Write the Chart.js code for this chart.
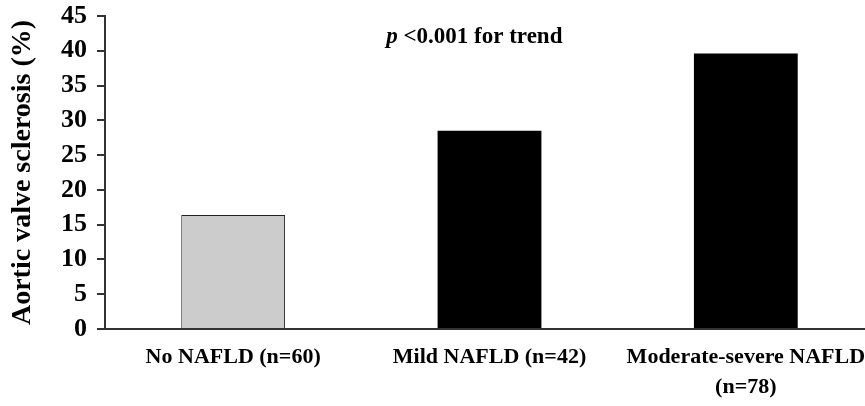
<!DOCTYPE html>
<html>
<head>
<meta charset="utf-8">
<script src="https://cdn.jsdelivr.net/npm/chart.js@4"></script>
<style>
  html, body { margin: 0; padding: 0; background: #fff; overflow: hidden; }
  #wrap { width: 900px; height: 406px; }
</style>
</head>
<body>
<div id="wrap"><canvas id="chart"></canvas></div>
<script>
'use strict'

// data
const categories = ['No NAFLD (n=60)', 'Mild NAFLD (n=42)', ['Moderate-severe NAFLD', '(n=78)']]
const sclerosis = [16.4, 28.5, 39.6]
const barColors = ['#cccccc', '#000000', '#000000']
const yTicks = [0, 5, 10, 15, 20, 25, 30, 35, 40, 45]
const trendNote = { italic: 'p', rest: ' <0.001 for trend' }

const fontFamily = '"Liberation Serif", "Times New Roman", serif'

// p-value note above the bars
const trendPlugin = {
    id: 'trendNote',
    afterDraw(chart) {
        const { ctx, scales } = chart
        const x = (scales.x.getPixelForValue(0) + scales.x.getPixelForValue(1)) / 2 + 113
        const y = scales.y.getPixelForValue(42)
        ctx.save()
        ctx.fillStyle = '#000'
        ctx.textBaseline = 'middle'
        ctx.font = 'italic bold 23px ' + fontFamily
        const w1 = ctx.measureText(trendNote.italic).width
        ctx.font = 'bold 23px ' + fontFamily
        const w2 = ctx.measureText(trendNote.rest).width
        let left = x - (w1 + w2) / 2
        ctx.font = 'italic bold 23px ' + fontFamily
        ctx.fillText(trendNote.italic, left, y)
        ctx.font = 'bold 23px ' + fontFamily
        ctx.fillText(trendNote.rest, left + w1, y)
        ctx.restore()
    }
}

const config = {
    type: 'bar',
    data: {
        labels: categories,
        datasets: [{
            data: sclerosis,
            backgroundColor: barColors,
            borderColor: '#222',
            borderWidth: [1, 0, 0],
            barPercentage: 0.81,
            categoryPercentage: 0.5
        }]
    },
    options: {
        responsive: true,
        maintainAspectRatio: false,
        animation: false,
        layout: { padding: { top: 16, right: 26, left: 0, bottom: 0 } },
        plugins: {
            legend: { display: false },
            tooltip: { enabled: false }
        },
        scales: {
            x: {
                grid: { display: false, drawTicks: false },
                border: { display: true, color: '#333', width: 2 },
                ticks: {
                    color: '#000',
                    padding: 13,
                    maxRotation: 0,
                    autoSkip: false,
                    font: { family: fontFamily, size: 22, weight: 'bold', lineHeight: 1.36 }
                },
                afterFit(scale) {
                    scale.height = 77
                    scale.paddingLeft = 0
                    scale.paddingRight = 0
                }
            },
            y: {
                min: 0,
                max: 45,
                afterBuildTicks(scale) { scale.ticks = yTicks.map(v => ({ value: v })) },
                grid: { drawOnChartArea: false, drawTicks: true, tickLength: 8, color: '#333', lineWidth: 2 },
                border: { display: true, color: '#333', width: 2 },
                ticks: {
                    color: '#000',
                    padding: 10,
                    autoSkip: false,
                    font: { family: fontFamily, size: 26, weight: 'bold', lineHeight: 1 }
                },
                title: {
                    display: true,
                    text: 'Aortic valve sclerosis (%)',
                    color: '#000',
                    padding: { top: 6, bottom: 0 },
                    font: { family: fontFamily, size: 28, weight: 'bold' }
                },
                afterFit(scale) {
                    scale.width = 105
                    scale.paddingTop = 0
                    scale.paddingBottom = 0
                }
            }
        }
    },
    plugins: [trendPlugin]
}

const chart = new Chart(document.getElementById('chart').getContext('2d'), config)
</script>
</body>
</html>
